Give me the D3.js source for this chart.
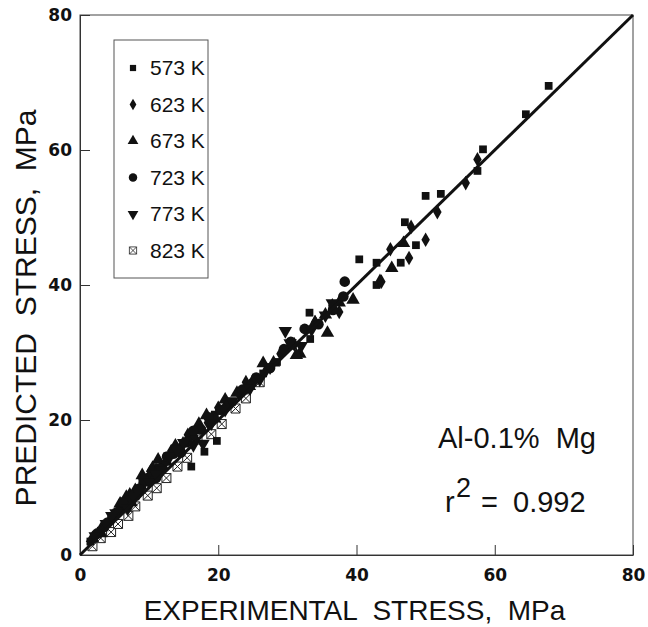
<!DOCTYPE html>
<html>
<head>
<meta charset="utf-8">
<script src="https://cdn.jsdelivr.net/npm/d3@7"></script>
<style>
  body { margin: 0; background: #fff; }
  svg { display: block; font-family: 'Liberation Sans', Arial, sans-serif; }
  text { white-space: pre; }
</style>
</head>
<body>
<svg id="chart" width="648" height="627"></svg>
<script>
// [experimental, predicted] stress pairs in MPa, one array per test temperature
const data573 = [[1.5, 2.0], [3.0, 3.6], [4.5, 5.3], [6.0, 6.9], [7.5, 8.6], [9.0, 10.3], [10.5, 11.9],
  [12.0, 13.4], [14.0, 15.5], [16.1, 13.1], [18.0, 15.3], [19.8, 16.9], [17.0, 18.5], [19.5, 20.8],
  [22.0, 22.7], [24.0, 24.5], [26.5, 26.9], [28.5, 28.6], [30.5, 31.0], [33.3, 32.0], [33.2, 35.9],
  [36.5, 36.3], [40.4, 43.8], [42.9, 43.3], [42.9, 40.0], [46.4, 43.3], [47.0, 49.3], [48.6, 45.9],
  [50.0, 53.2], [52.2, 53.5], [57.5, 56.9], [58.3, 60.1], [64.5, 65.3], [67.8, 69.5]];
const data623 = [[2.0, 2.6], [3.5, 4.3], [5.0, 6.0], [6.5, 7.6], [8.0, 9.3], [9.5, 11.0], [11.0, 12.6],
  [12.5, 14.0], [14.5, 15.8], [16.5, 17.6], [18.5, 19.6], [21.0, 22.0], [23.0, 23.9], [25.0, 25.8],
  [27.0, 27.5], [29.0, 29.8], [31.0, 31.2], [34.0, 34.5], [36.5, 37.0], [37.5, 36.0], [43.4, 40.6],
  [43.6, 40.5], [44.9, 45.3], [47.6, 44.0], [47.9, 48.6], [50.0, 46.7], [51.7, 50.8], [55.8, 55.1],
  [57.5, 58.6], [7.2, 9.0], [10.2, 12.4], [13.2, 15.4], [15.6, 17.8], [20.0, 21.8], [24.0, 25.6]];
const data673 = [[1.8, 2.5], [3.2, 4.1], [4.8, 5.8], [6.7, 8.6], [8.0, 9.6], [9.5, 10.8], [11.3, 14.1],
  [12.5, 13.8], [14.9, 16.5], [16.5, 17.5], [18.3, 20.7], [19.5, 20.2], [22.7, 24.0], [24.5, 25.0],
  [26.5, 28.4], [28.0, 28.5], [31.8, 29.8], [31.3, 29.6], [34.0, 34.4], [35.8, 32.9], [35.5, 35.6],
  [37.5, 37.4], [39.5, 37.8], [45.1, 42.5], [46.8, 46.2], [5.8, 7.6], [10.5, 12.9], [13.8, 16.2],
  [17.2, 19.4], [21.0, 23.0], [9.0, 11.8], [3.0, 3.2], [7.4, 7.8]];
const data723 = [[2.5, 3.2], [4.0, 4.8], [5.5, 6.4], [7.0, 8.0], [8.5, 9.8], [10.0, 11.5], [11.5, 12.8],
  [13.5, 15.0], [15.5, 16.8], [17.5, 18.6], [19.3, 20.3], [20.3, 21.5], [21.7, 22.5], [23.5, 24.5],
  [25.5, 26.3], [27.5, 27.7], [29.5, 30.5], [30.5, 31.6], [32.5, 33.5], [34.5, 34.2], [36.6, 36.3],
  [38.1, 38.3], [38.3, 40.5], [6.2, 7.8], [9.2, 11.2], [12.6, 14.6], [16.4, 18.4], [18.6, 20.4],
  [14.6, 15.2], [11.0, 11.4]];
const data773 = [[2.2, 2.8], [3.8, 4.6], [5.2, 6.2], [6.9, 6.9], [8.5, 9.2], [10.0, 10.8], [11.8, 12.5],
  [13.0, 14.6], [14.0, 15.6], [16.4, 16.3], [17.8, 16.5], [19.0, 19.5], [21.0, 21.5], [24.6, 24.7],
  [26.0, 26.0], [27.5, 27.8], [29.7, 33.2], [30.4, 31.4], [32.0, 31.0], [33.5, 33.4], [35.5, 35.5],
  [36.5, 37.3], [4.6, 5.8], [7.8, 8.6], [11.0, 12.0], [15.0, 16.6], [22.0, 22.8]];
const data823 = [[1.8, 1.3], [3.0, 2.5], [4.5, 3.4], [5.5, 4.6], [7.0, 5.8], [8.0, 7.2], [9.8, 8.8],
  [11.1, 9.9], [12.5, 11.4], [14.1, 13.1], [15.5, 14.4], [17.0, 17.1], [19.0, 17.9], [20.5, 19.4],
  [22.5, 21.7], [24.0, 23.2], [26.0, 25.6]];

const temperatures = ['573 K', '623 K', '673 K', '723 K', '773 K', '823 K'];
const seriesData = [data573, data623, data673, data723, data773, data823];
const axisTicks = [0, 20, 40, 60, 80];
const fitLine = [[0, 0], [80, 80]];
const alloyLabel = 'Al-0.1%  Mg';
const r2Value = '0.992';

const margin = { top: 15, right: 15, bottom: 72, left: 80 };
const svg = d3.select('#chart');
const width = +svg.attr('width') - margin.left - margin.right;
const height = +svg.attr('height') - margin.top - margin.bottom;

const xScale = d3.scaleLinear().domain([0, 80]).range([0, width]);
const yScale = d3.scaleLinear().domain([0, 80]).range([height, 0]);

const chart = svg.append('g').attr('transform', `translate(${margin.left},${margin.top})`);

// Marker shapes, one per temperature
const boxX = (s) => `M${-s},${-s}H${s}V${s}H${-s}Z M${-s},${-s}L${s},${s} M${s},${-s}L${-s},${s}`;
const markers = [
  { path: d3.symbol(d3.symbolSquare, 60)(), rot: 0, fill: '#111' },
  { path: d3.symbol(d3.symbolDiamond, 62)(), rot: 0, fill: '#111' },
  { path: d3.symbol(d3.symbolTriangle, 78)(), rot: 0, fill: '#111' },
  { path: d3.symbol(d3.symbolCircle, 88)(), rot: 0, fill: '#111' },
  { path: d3.symbol(d3.symbolTriangle, 78)(), rot: 180, fill: '#111' },
  { path: boxX(4.5), rot: 0, fill: '#fff', stroke: '#222' }
];

// Frame
chart.append('rect')
  .attr('width', width).attr('height', height)
  .attr('fill', 'none').attr('stroke', '#444').attr('stroke-width', 1);

// Axes with inward ticks
const xAxis = d3.axisBottom(xScale).tickValues(axisTicks).tickSizeInner(-10).tickSizeOuter(0).tickPadding(14);
const yAxis = d3.axisLeft(yScale).tickValues(axisTicks).tickSizeInner(-10).tickSizeOuter(0).tickPadding(8);

const xAxisG = chart.append('g').attr('transform', `translate(0,${height})`).call(xAxis);
const yAxisG = chart.append('g').call(yAxis);
[xAxisG, yAxisG].forEach((g) => {
  g.select('.domain').attr('stroke', '#333');
  g.selectAll('.tick line').attr('stroke', '#333');
  g.selectAll('.tick text')
    .attr('fill', '#111')
    .style('font-family', "'DejaVu Sans', sans-serif")
    .style('font-weight', 'bold')
    .style('font-size', '17px');
});

// Points: open 823 K markers first so the filled ones sit on top
const drawOrder = [5, 0, 1, 2, 3, 4];
drawOrder.forEach((i) => {
  const m = markers[i];
  chart.append('g')
    .selectAll('path')
    .data(seriesData[i])
    .join('path')
    .attr('d', m.path)
    .attr('transform', (d) => `translate(${xScale(d[0])},${yScale(d[1])}) rotate(${m.rot})`)
    .attr('fill', m.fill)
    .attr('stroke', m.stroke || 'none')
    .attr('stroke-width', 1);
});

// y = x line
chart.append('path')
  .datum(fitLine)
  .attr('d', d3.line().x((d) => xScale(d[0])).y((d) => yScale(d[1])))
  .attr('stroke', '#111')
  .attr('stroke-width', 3)
  .attr('fill', 'none');

// Legend
const legend = chart.append('g').attr('transform', 'translate(34,25)');
legend.append('rect')
  .attr('width', 94).attr('height', 238)
  .attr('fill', '#fff').attr('stroke', '#555').attr('stroke-width', 1);
temperatures.forEach((t, i) => {
  const m = markers[i];
  const row = legend.append('g').attr('transform', `translate(19,${28 + i * 36.5})`);
  row.append('path')
    .attr('d', m.path)
    .attr('transform', `rotate(${m.rot}) scale(0.8)`)
    .attr('fill', m.fill)
    .attr('stroke', m.stroke || 'none');
  row.append('text')
    .attr('x', 17).attr('y', 7)
    .attr('font-size', 21)
    .attr('fill', '#111')
    .text(t);
});

// Annotations
chart.append('text')
  .attr('x', 358).attr('y', 433)
  .attr('font-size', 29)
  .attr('fill', '#111')
  .text(alloyLabel);
const r2 = chart.append('g').attr('transform', 'translate(365,497)').attr('fill', '#111');
r2.append('text').attr('font-size', 29).text('r');
r2.append('text').attr('x', 11).attr('y', -15).attr('font-size', 27).text('2');
r2.append('text').attr('x', 36).attr('font-size', 29).text('=');
r2.append('text').attr('x', 68).attr('font-size', 29).text(r2Value);

// Axis titles
svg.append('text')
  .attr('x', margin.left + width / 2 - 2)
  .attr('y', 620)
  .attr('text-anchor', 'middle')
  .attr('font-size', 28)
  .attr('fill', '#111')
  .text('EXPERIMENTAL  STRESS,  MPa');
svg.append('text')
  .attr('transform', `translate(36,${308}) rotate(-90)`)
  .attr('text-anchor', 'middle')
  .attr('font-size', 30)
  .attr('fill', '#111')
  .text('PREDICTED  STRESS,  MPa');
</script>
</body>
</html>
